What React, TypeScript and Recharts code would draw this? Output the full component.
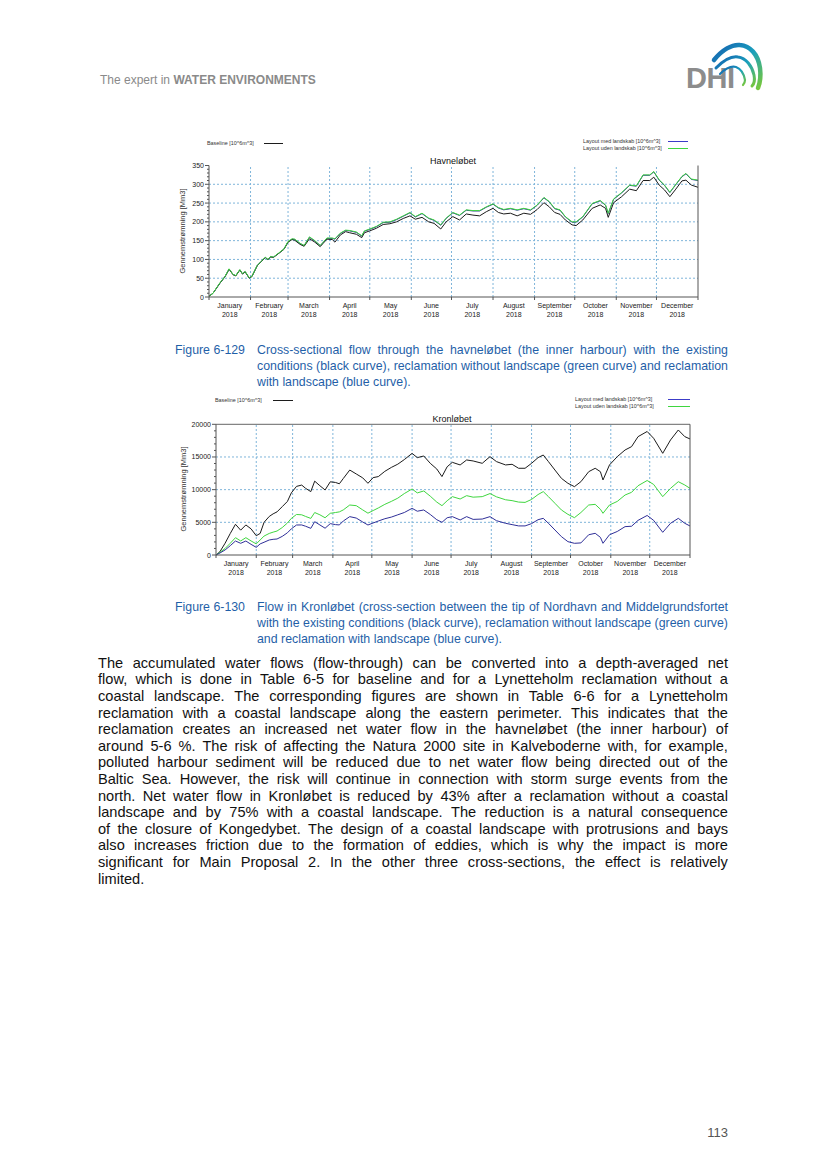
import React from "react";
import { LineChart, Line, XAxis, YAxis, ReferenceLine } from "recharts";

const font = '"Liberation Sans", Arial, Helvetica, sans-serif';
const axisColor = "#555";
const gridBlue = "#7fb5da";
const captionBlue = "#1f5fa8";
const black = "#1c1c1c";
const green = "#3fd63f";
const blue = "#2f2f98";
const legendBlue = "#3c3cc8";

const monthNames = ["January", "February", "March", "April", "May", "June", "July", "August", "September", "October", "November", "December"];
const monthStarts = [0, 31, 59, 90, 120, 151, 181, 212, 243, 273, 304, 334, 365];
const monthMids = monthNames.map((_, i) => (monthStarts[i] + monthStarts[i + 1]) / 2);

// Havneløbet, day of year 2018
const havnDays = [
  0, 3, 8, 12, 15, 18, 20, 23, 25, 27,
  30, 32, 36, 39, 42, 44, 46, 48, 52, 56,
  59, 62, 64, 68, 71, 75, 79, 83, 85, 88,
  92, 94, 98, 102, 105, 110, 114, 116, 120, 125,
  130, 135, 140, 145, 150, 154, 159, 164, 168, 173,
  177, 182, 187, 192, 197, 202, 207, 212, 216, 220,
  225, 230, 235, 240, 245, 250, 254, 258, 262, 266,
  271, 274, 279, 286, 292, 296, 298, 302, 308, 314,
  319, 324, 329, 332, 336, 340, 344, 348, 353, 356,
  360, 365,
];
const havnBaseline = [
  2, 10, 36, 54, 74, 59, 56, 72, 61, 67,
  50, 54, 83, 94, 105, 99, 107, 105, 116, 127,
  146, 153, 151, 140, 135, 155, 146, 134, 142, 154,
  153, 146, 165, 174, 171, 167, 158, 171, 176, 183,
  193, 195, 200, 209, 216, 207, 212, 200, 196, 181,
  200, 214, 205, 221, 218, 216, 227, 236, 225, 221,
  223, 216, 223, 220, 233, 251, 240, 225, 220, 205,
  192, 190, 205, 236, 245, 236, 212, 251, 267, 287,
  283, 310, 310, 319, 298, 285, 267, 285, 309, 311,
  298, 292,
];
const havnUden = [
  2, 10, 37, 55, 75, 60, 57, 73, 62, 68,
  51, 55, 84, 95, 106, 100, 108, 106, 117, 128,
  148, 155, 154, 143, 137, 160, 150, 137, 145, 157,
  157, 155, 170, 178, 177, 173, 163, 176, 181, 188,
  199, 200, 207, 216, 225, 214, 223, 210, 205, 192,
  210, 225, 218, 232, 230, 230, 240, 248, 238, 233,
  236, 232, 236, 232, 245, 265, 254, 236, 232, 214,
  200, 200, 214, 249, 257, 245, 223, 261, 278, 298,
  296, 325, 325, 334, 312, 298, 279, 298, 321, 329,
  314, 311,
];
const havnMed = [
  2, 10, 36, 55, 74, 60, 57, 72, 62, 67,
  51, 55, 84, 95, 105, 100, 107, 106, 116, 128,
  147, 154, 153, 142, 137, 159, 149, 137, 144, 156,
  156, 154, 169, 177, 176, 172, 162, 175, 180, 187,
  198, 199, 206, 215, 224, 213, 222, 209, 204, 191,
  209, 224, 217, 231, 229, 229, 239, 247, 237, 232,
  235, 231, 235, 231, 244, 264, 253, 235, 231, 213,
  199, 199, 213, 248, 256, 244, 222, 260, 277, 297,
  295, 324, 324, 333, 311, 297, 278, 297, 320, 328,
  313, 310,
];
const havnGrid = [50, 100, 150, 200, 250, 300];
const havnMinor = [0, 10, 20, 30, 40, 50, 60, 70, 80, 90, 100, 110, 120, 130, 140, 150, 160, 170, 180, 190, 200, 210, 220, 230, 240, 250, 260, 270, 280, 290, 300, 310, 320, 330, 340, 350];

// Kronløbet
const kronDays = [
  0, 3, 7, 11, 15, 19, 23, 27, 31, 34,
  37, 41, 44, 47, 51, 55, 58, 62, 66, 69,
  73, 76, 80, 84, 88, 92, 95, 98, 103, 108,
  113, 117, 121, 125, 130, 135, 140, 145, 151, 155,
  160, 165, 170, 174, 178, 182, 188, 193, 198, 205,
  211, 216, 223, 228, 233, 238, 243, 248, 252, 256,
  261, 266, 271, 276, 281, 287, 292, 296, 298, 303,
  309, 315, 320, 325, 332, 337, 344, 350, 356, 361,
  365,
];
const kronBaseline = [
  0, 500, 1800, 3300, 4700, 3800, 4600, 4000, 2950, 3300,
  5000, 5900, 6300, 6600, 7400, 8200, 9500, 10500, 10700, 10200,
  9700, 11300, 10600, 9950, 11200, 11100, 10900, 11700, 13000, 12400,
  11800, 10970, 11840, 12000, 12800, 13400, 13900, 14600, 15550, 14900,
  15150, 14030, 13160, 12000, 13500, 14180, 13780, 14540, 14390, 14030,
  15050, 14290, 13780, 13880, 13270, 13270, 14030, 14900, 15300, 14290,
  13000, 11730, 10970, 10460, 11220, 12750, 13270, 12750, 11480, 13780,
  15050, 16070, 16580, 18110, 18900, 17860, 15560, 17600, 19130, 18110,
  17760,
];
const kronUden = [
  0, 400, 1000, 1800, 2650, 2150, 2650, 2150, 1700, 2300,
  2900, 3300, 3500, 3670, 4200, 4900, 5600, 6200, 6150, 5900,
  5600, 6500, 6150, 5700, 6380, 6500, 6600, 6900, 7650, 7550,
  6900, 6400, 6800, 7200, 7750, 8200, 8700, 9400, 10100, 9500,
  9800, 9000, 8100, 7550, 8300, 8930, 8570, 9080, 8850, 8930,
  9400, 8900, 8450, 8320, 8100, 8050, 8500, 9250, 9700, 8930,
  7910, 6890, 6220, 5710, 6500, 7650, 7750, 7000, 6380, 7650,
  8200, 9180, 9590, 10600, 11400, 10800, 8930, 10200, 11220, 10710,
  10200,
];
const kronMed = [
  0, 300, 770, 1430, 2140, 1790, 2140, 1630, 1170, 1700,
  1950, 2300, 2400, 2450, 2850, 3400, 4000, 4590, 4600, 4400,
  4080, 5100, 4600, 4100, 4800, 4650, 4600, 5200, 5870, 5650,
  5050, 4590, 4900, 5200, 5550, 5800, 6150, 6500, 7140, 6700,
  6890, 6200, 5400, 5000, 5700, 5870, 5360, 5870, 5450, 5500,
  5870, 5250, 4850, 4650, 4450, 4450, 4800, 5400, 5610, 4850,
  3830, 2810, 2040, 1790, 1850, 3100, 3320, 2700, 1790, 3100,
  3600, 4340, 4400, 5300, 6050, 5300, 3470, 4850, 5610, 4850,
  4440,
];
const kronGrid = [5000, 10000, 15000];
const kronMinor = [0, 1000, 2000, 3000, 4000, 5000, 6000, 7000, 8000, 9000, 10000, 11000, 12000, 13000, 14000, 15000, 16000, 17000, 18000, 19000, 20000];

const havnRows = havnDays.map((d, i) => ({ day: d, baseline: havnBaseline[i], uden: havnUden[i], med: havnMed[i] }));
const kronRows = kronDays.map((d, i) => ({ day: d, baseline: kronBaseline[i], uden: kronUden[i], med: kronMed[i] }));

const xTicks = [...monthStarts, ...monthMids].sort((a, b) => a - b);

function XTick(props: any) {
  const { x, y, payload } = props;
  if (monthStarts.indexOf(payload.value) >= 0) {
    return <line x1={x} y1={y} x2={x} y2={y + 3} stroke={axisColor} />;
  }
  const m = monthMids.indexOf(payload.value);
  return (
    <text x={x} y={y} textAnchor="middle" fontSize={7} fill="#222" fontFamily={font}>
      <tspan x={x} dy={11}>{monthNames[m]}</tspan>
      <tspan x={x} dy={8.5}>2018</tspan>
    </text>
  );
}

function YTick(props: any) {
  const { x, y, payload, major, side } = props;
  const isMajor = payload.value % major === 0;
  const dir = side === "left" ? -1 : 1;
  const len = isMajor ? 4 : 2;
  return (
    <g>
      <line x1={x} y1={y} x2={x + dir * len} y2={y} stroke={axisColor} />
      {isMajor && (
        <text x={x + dir * 5} y={y} dy={2.5} textAnchor={side === "left" ? "end" : "start"} fontSize={7} fill="#222" fontFamily={font}>
          {payload.value}
        </text>
      )}
    </g>
  );
}

type ChartProps = {
  left: number;
  top: number;
  width: number;
  height: number;
  rows: any[];
  yMax: number;
  major: number;
  minor: number[];
  grid: number[];
  leftW: number;
  rightW: number;
  topM: number;
  bottomH: number;
  topLine: boolean;
  greenOnTop: boolean;
};

function FlowChart(p: ChartProps) {
  const series = p.greenOnTop
    ? [
        { key: "med", color: blue },
        { key: "baseline", color: black },
        { key: "uden", color: green },
      ]
    : [
        { key: "baseline", color: black },
        { key: "uden", color: green },
        { key: "med", color: blue },
      ];
  return (
    <div style={{ position: "absolute", left: p.left, top: p.top }}>
      <LineChart width={p.width} height={p.height} data={p.rows} margin={{ top: p.topM, right: 0, bottom: 0, left: 0 }}>
        <XAxis
          dataKey="day"
          type="number"
          domain={[0, 365]}
          ticks={xTicks}
          interval={0}
          tick={<XTick />}
          tickLine={false}
          tickSize={0}
          tickMargin={0}
          height={p.bottomH}
          axisLine={{ stroke: axisColor }}
        />
        <YAxis
          yAxisId="left"
          type="number"
          domain={[0, p.yMax]}
          ticks={p.minor}
          interval={0}
          tick={<YTick side="left" major={p.major} />}
          tickLine={false}
          tickSize={0}
          tickMargin={0}
          width={p.leftW}
          axisLine={{ stroke: axisColor }}
        />
        <YAxis
          yAxisId="right"
          orientation="right"
          type="number"
          domain={[0, p.yMax]}
          ticks={p.minor}
          interval={0}
          tick={<YTick side="right" major={p.major} />}
          tickLine={false}
          tickSize={0}
          tickMargin={0}
          width={p.rightW}
          axisLine={{ stroke: axisColor }}
        />
        {p.grid.map((v) => (
          <ReferenceLine key={"h" + v} yAxisId="left" y={v} stroke={gridBlue} strokeDasharray="2 2" />
        ))}
        {monthStarts.slice(1, 12).map((v) => (
          <ReferenceLine key={"v" + v} yAxisId="left" x={v} stroke={gridBlue} strokeDasharray="2 2" />
        ))}
        {p.topLine && <ReferenceLine yAxisId="left" y={p.yMax} stroke="#666" />}
        {series.map((s) => (
          <Line
            key={s.key}
            yAxisId="left"
            type="linear"
            dataKey={s.key}
            stroke={s.color}
            strokeWidth={1}
            dot={false}
            isAnimationActive={false}
          />
        ))}
      </LineChart>
    </div>
  );
}

function LegendItem({ text, x, y, lineX, lineW, color }: { text: string; x: number; y: number; lineX: number; lineW: number; color: string }) {
  return (
    <>
      <div style={{ position: "absolute", left: x, top: y - 4, fontSize: 5.4, lineHeight: "8px", fontFamily: font, color: "#333", whiteSpace: "nowrap" }}>{text}</div>
      <div style={{ position: "absolute", left: lineX, top: y, width: lineW, height: 0, borderTop: "1px solid " + color }} />
    </>
  );
}

function YLabel({ cx, cy }: { cx: number; cy: number }) {
  return (
    <div
      style={{
        position: "absolute",
        left: cx,
        top: cy,
        transform: "translate(-50%, -50%) rotate(-90deg)",
        fontSize: 7.5,
        fontFamily: font,
        color: "#333",
        whiteSpace: "nowrap",
      }}
    >
      Gennemstrømning [Mm3]
    </div>
  );
}

function Title({ cx, cy, text }: { cx: number; cy: number; text: string }) {
  return (
    <div style={{ position: "absolute", left: cx, top: cy, transform: "translate(-50%, -50%)", fontSize: 9, fontFamily: font, color: "#111", whiteSpace: "nowrap" }}>
      {text}
    </div>
  );
}

function JustLine({ text, left, top, width, size, lh, color, last }: any) {
  const base: React.CSSProperties = { position: "absolute", left, top, fontSize: size, lineHeight: lh + "px", color, fontFamily: font, whiteSpace: "nowrap" };
  if (last) return <div style={base}>{text}</div>;
  return (
    <div style={{ ...base, width, display: "flex", justifyContent: "space-between" }}>
      {text.split(" ").map((w: string, i: number) => (
        <span key={i}>{w}</span>
      ))}
    </div>
  );
}

const caption1 = [
  "Cross-sectional flow through the havneløbet (the inner harbour) with the existing",
  "conditions (black curve), reclamation without landscape (green curve) and reclamation",
  "with landscape (blue curve).",
];
const caption2 = [
  "Flow in Kronløbet (cross-section between the tip of Nordhavn and Middelgrundsfortet",
  "with the existing conditions (black curve), reclamation without landscape (green curve)",
  "and reclamation with landscape (blue curve).",
];
const bodyLines = [
  "The accumulated water flows (flow-through) can be converted into a depth-averaged net",
  "flow, which is done in Table 6-5 for baseline and for a Lynetteholm reclamation without a",
  "coastal landscape. The corresponding figures are shown in Table 6-6 for a Lynetteholm",
  "reclamation with a coastal landscape along the eastern perimeter. This indicates that the",
  "reclamation creates an increased net water flow in the havneløbet (the inner harbour) of",
  "around 5-6 %. The risk of affecting the Natura 2000 site in Kalveboderne with, for example,",
  "polluted harbour sediment will be reduced due to net water flow being directed out of the",
  "Baltic Sea. However, the risk will continue in connection with storm surge events from the",
  "north. Net water flow in Kronløbet is reduced by 43% after a reclamation without a coastal",
  "landscape and by 75% with a coastal landscape. The reduction is a natural consequence",
  "of the closure of Kongedybet. The design of a coastal landscape with protrusions and bays",
  "also increases friction due to the formation of eddies, which is why the impact is more",
  "significant for Main Proposal 2. In the other three cross-sections, the effect is relatively",
  "limited.",
];

function Caption({ label, lines, top }: { label: string; lines: string[]; top: number }) {
  return (
    <>
      <div style={{ position: "absolute", left: 175, top, fontSize: 12.35, lineHeight: "16px", color: captionBlue, fontFamily: font, whiteSpace: "nowrap" }}>{label}</div>
      {lines.map((t, i) => (
        <JustLine key={i} text={t} left={257} top={top + i * 16} width={471} size={12.35} lh={16} color={captionBlue} last={i === lines.length - 1} />
      ))}
    </>
  );
}

function Logo() {
  return (
    <svg style={{ position: "absolute", left: 680, top: 38 }} width={90} height={70}>
      <defs>
        <linearGradient id="dhiwave" x1="0" y1="0" x2="1" y2="1">
          <stop offset="0" stopColor="#1560b0" />
          <stop offset="0.5" stopColor="#1aa0bd" />
          <stop offset="1" stopColor="#78c83a" />
        </linearGradient>
      </defs>
      <text x={6} y={50} fontSize={29} fontWeight="bold" fill="#8c8c8c" fontFamily={font} letterSpacing={-0.5}>
        DHI
      </text>
      <path d="M34 22 C42 12, 52 6, 60 7 C70 8, 78 16, 80 30 C81 38, 80 45, 78 50" fill="none" stroke="url(#dhiwave)" strokeWidth={4.5} strokeLinecap="round" />
      <path d="M36 30 C44 22, 52 18, 58 19 C66 20, 72 28, 74 37 C75 42, 74 46, 72 48" fill="none" stroke="url(#dhiwave)" strokeWidth={3} strokeLinecap="round" />
      <path d="M40 36 C46 30, 52 28, 56 29 C61 31, 64 36, 65 42 C65 44, 64 46, 63 47" fill="none" stroke="url(#dhiwave)" strokeWidth={2.2} strokeLinecap="round" />
    </svg>
  );
}

export default function App() {
  return (
    <div style={{ position: "absolute", left: 0, top: 0, width: 827, height: 1169, background: "#fff", fontFamily: font, overflow: "hidden" }}>
      <div style={{ position: "absolute", left: 100, top: 73, fontSize: 12, lineHeight: "14px", color: "#8a8a8a", whiteSpace: "nowrap" }}>
        The expert in <b>WATER ENVIRONMENTS</b>
      </div>
      <Logo />

      <LegendItem text="Baseline [10^6m^3]" x={207} y={143} lineX={264} lineW={19} color={black} />
      <LegendItem text="Layout med landskab [10^6m^3]" x={583} y={140.5} lineX={668} lineW={20} color={legendBlue} />
      <LegendItem text="Layout uden landskab [10^6m^3]" x={583} y={147.5} lineX={668} lineW={20} color={green} />
      <Title cx={453} cy={161} text="Havneløbet" />
      <YLabel cx={182} cy={231} />
      <FlowChart
        left={150}
        top={150}
        width={600}
        height={175}
        rows={havnRows}
        yMax={350}
        major={50}
        minor={havnMinor}
        grid={havnGrid}
        leftW={59}
        rightW={52}
        topM={15.5}
        bottomH={28}
        topLine={false}
        greenOnTop={true}
      />

      <Caption label="Figure 6-129" lines={caption1} top={342} />

      <LegendItem text="Baseline [10^6m^3]" x={215} y={400} lineX={273} lineW={20} color={black} />
      <LegendItem text="Layout med landskab [10^6m^3]" x={575} y={399} lineX={668} lineW={22} color={legendBlue} />
      <LegendItem text="Layout uden landskab [10^6m^3]" x={575} y={406} lineX={668} lineW={22} color={green} />
      <Title cx={452} cy={419} text="Kronløbet" />
      <YLabel cx={183} cy={489} />
      <FlowChart
        left={150}
        top={405}
        width={600}
        height={180}
        rows={kronRows}
        yMax={20000}
        major={5000}
        minor={kronMinor}
        grid={kronGrid}
        leftW={66}
        rightW={60}
        topM={19.3}
        bottomH={30}
        topLine={true}
        greenOnTop={false}
      />

      <Caption label="Figure 6-130" lines={caption2} top={599} />

      {bodyLines.map((t, i) => (
        <JustLine key={i} text={t} left={98} top={654.7 + i * 16.6} width={630} size={14.6} lh={16.6} color="#111" last={i === bodyLines.length - 1} />
      ))}

      <div style={{ position: "absolute", right: 99, top: 1125, fontSize: 13, lineHeight: "16px", color: "#555" }}>113</div>
    </div>
  );
}
